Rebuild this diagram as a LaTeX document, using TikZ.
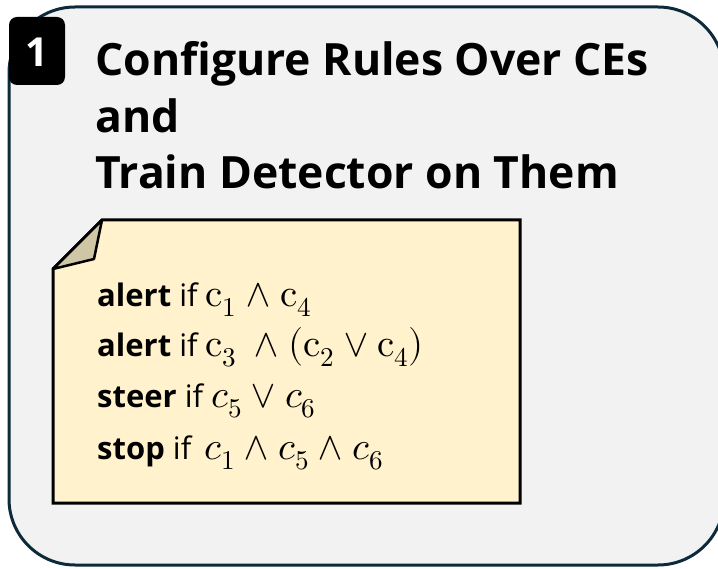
\documentclass[tikz,border=0pt]{standalone}
\usepackage{fontspec}
\usepackage{unicode-math}
\setmainfont{Open Sans}
\setmathfont{Latin Modern Math}[Scale=1.25]
\definecolor{panelgray}{HTML}{F2F2F2}
\definecolor{panelnavy}{HTML}{0D2A3B}
\definecolor{noteyellow}{HTML}{FFF2CC}
\definecolor{notefold}{HTML}{CFC6A6}
\begin{document}
\begin{tikzpicture}[
				x=1pt, y=-1pt,
				panel/.style={draw=panelnavy, fill=panelgray, line width=3pt, rounded corners=66pt},
				badge/.style={fill=black, rounded corners=8pt},
				badgenum/.style={text=white, font=\bfseries\fontsize{40}{40}\selectfont},
				heading/.style={anchor=base west, inner sep=0pt, font=\bfseries\fontsize{44.5}{45}\selectfont},
				note/.style={draw=black, fill=noteyellow, line width=3pt, line join=miter},
				fold/.style={draw=black, fill=notefold, line width=2.5pt, line join=round},
				rule/.style={anchor=base west, inner sep=0pt, font=\fontsize{31}{34}\selectfont}
				]
			\useasboundingbox (0,0) rectangle (718,569);
			% grey panel, cut off at the right border
			\draw [panel] (9,7) rectangle (724,565);
			\fill [badge] (9,17) rectangle (65,85);
			\node [badgenum] (num) at (37,52) {1};
			\node [heading] (title1) at (95,76) {Configure Rules Over CEs};
			\node [heading] (title2) at (95,133) {and};
			\node [heading] (title3) at (95,189) {Train Detector on Them};
			% note with folded corner
			\draw [note] (53,269) -- (102,220) -- (520,220) -- (520,503) -- (53,503) -- cycle;
			\draw [fold] (102,220) -- (94,259) -- (53,269) -- cycle;
			\node [rule] (rule1) at (97,307) {\textbf{alert} if $\symup{c}_1\wedge \symup{c}_4$};
			\node [rule] (rule2) at (97,357) {\textbf{alert} if $\symup{c}_3\ \wedge (\symup{c}_2\vee \symup{c}_4)$};
			\node [rule] (rule3) at (97,408) {\textbf{steer} if $c_5\vee c_6$};
			\node [rule] (rule4) at (97,460) {\textbf{stop} if\, $c_1\wedge c_5\wedge c_6$};
			\end{tikzpicture}
\end{document}
